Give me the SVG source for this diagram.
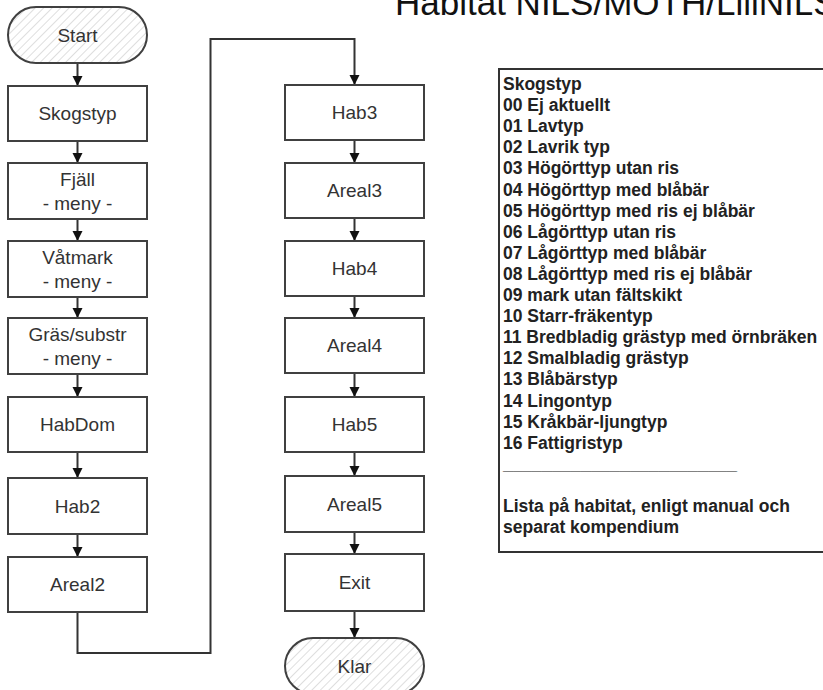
<svg xmlns="http://www.w3.org/2000/svg" width="823" height="690" viewBox="0 0 823 690">
<style>
.box{fill:#fff;stroke:#404040;stroke-width:2}
.term{fill:url(#hatch);stroke:#404040;stroke-width:2}
.lbl{font-family:"Liberation Sans",Arial,sans-serif;font-size:19px;fill:#333;text-anchor:middle}
.conn{fill:none;stroke:#333;stroke-width:2}
.lst{font-family:"Liberation Sans",Arial,sans-serif;font-size:17.5px;font-weight:bold;fill:#222}
.title{font-family:"Liberation Sans",Arial,sans-serif;font-size:35px;fill:#111}
</style>
<defs>
<pattern id="hatch" patternUnits="userSpaceOnUse" width="6" height="6" patternTransform="rotate(45)">
<rect width="6" height="6" fill="#fff"/>
<line x1="0" y1="0" x2="0" y2="6" stroke="#c8c8c8" stroke-width="1.2"/>
</pattern>
<marker id="arr" markerUnits="userSpaceOnUse" markerWidth="11" markerHeight="11" refX="10" refY="5" orient="auto">
<path d="M0,0 L10,5 L0,10 z" fill="#111"/>
</marker>
</defs>
<rect width="823" height="690" fill="#fff"/>
<text class="title" x="395" y="14.5">Habitat NILS/MOTH/LiiiNILS</text>

<g id="connectors">
<line class="conn" x1="77.5" y1="63" x2="77.5" y2="86" marker-end="url(#arr)"/>
<line class="conn" x1="77.5" y1="141" x2="77.5" y2="163" marker-end="url(#arr)"/>
<line class="conn" x1="77.5" y1="219" x2="77.5" y2="241" marker-end="url(#arr)"/>
<line class="conn" x1="77.5" y1="297" x2="77.5" y2="318" marker-end="url(#arr)"/>
<line class="conn" x1="77.5" y1="374" x2="77.5" y2="397" marker-end="url(#arr)"/>
<line class="conn" x1="77.5" y1="452" x2="77.5" y2="478" marker-end="url(#arr)"/>
<line class="conn" x1="77.5" y1="534" x2="77.5" y2="557" marker-end="url(#arr)"/>
<path class="conn" d="M77.5,612 V653 H210.5 V39 H354.5 V85" marker-end="url(#arr)"/>
<line class="conn" x1="354.5" y1="140" x2="354.5" y2="163" marker-end="url(#arr)"/>
<line class="conn" x1="354.5" y1="218" x2="354.5" y2="241" marker-end="url(#arr)"/>
<line class="conn" x1="354.5" y1="296" x2="354.5" y2="318" marker-end="url(#arr)"/>
<line class="conn" x1="354.5" y1="373" x2="354.5" y2="397" marker-end="url(#arr)"/>
<line class="conn" x1="354.5" y1="452" x2="354.5" y2="476" marker-end="url(#arr)"/>
<line class="conn" x1="354.5" y1="532" x2="354.5" y2="554" marker-end="url(#arr)"/>
<line class="conn" x1="354.5" y1="611" x2="354.5" y2="638" marker-end="url(#arr)"/>
</g>

<g id="start"><rect class="term" x="8" y="7" width="139" height="56" rx="28" ry="28"/><text class="lbl" x="77.5" y="41.5">Start</text></g>
<g id="skogstyp"><rect class="box" x="8" y="86" width="139" height="55"/><text class="lbl" x="77.5" y="120">Skogstyp</text></g>
<g id="fjall"><rect class="box" x="8" y="163" width="139" height="56"/><text class="lbl" x="77.5" y="185.5">Fjäll</text><text class="lbl" x="77.5" y="209.5">- meny -</text></g>
<g id="vatmark"><rect class="box" x="8" y="241" width="139" height="56"/><text class="lbl" x="77.5" y="263.5">Våtmark</text><text class="lbl" x="77.5" y="287.5">- meny -</text></g>
<g id="gras"><rect class="box" x="8" y="318" width="139" height="56"/><text class="lbl" x="77.5" y="340.5">Gräs/substr</text><text class="lbl" x="77.5" y="364.5">- meny -</text></g>
<g id="habdom"><rect class="box" x="8" y="397" width="139" height="55"/><text class="lbl" x="77.5" y="431">HabDom</text></g>
<g id="hab2"><rect class="box" x="8" y="478" width="139" height="56"/><text class="lbl" x="77.5" y="512.5">Hab2</text></g>
<g id="areal2"><rect class="box" x="8" y="557" width="139" height="55"/><text class="lbl" x="77.5" y="591">Areal2</text></g>

<g id="hab3"><rect class="box" x="285" y="85" width="139" height="55"/><text class="lbl" x="354.5" y="119">Hab3</text></g>
<g id="areal3"><rect class="box" x="285" y="163" width="139" height="55"/><text class="lbl" x="354.5" y="197">Areal3</text></g>
<g id="hab4"><rect class="box" x="285" y="241" width="139" height="55"/><text class="lbl" x="354.5" y="275">Hab4</text></g>
<g id="areal4"><rect class="box" x="285" y="318" width="139" height="55"/><text class="lbl" x="354.5" y="352">Areal4</text></g>
<g id="hab5"><rect class="box" x="285" y="397" width="139" height="55"/><text class="lbl" x="354.5" y="431">Hab5</text></g>
<g id="areal5"><rect class="box" x="285" y="476" width="139" height="56"/><text class="lbl" x="354.5" y="510.5">Areal5</text></g>
<g id="exit"><rect class="box" x="285" y="554" width="139" height="57"/><text class="lbl" x="354.5" y="589">Exit</text></g>
<g id="klar"><rect class="term" x="285" y="638" width="139" height="56" rx="28" ry="28"/><text class="lbl" x="354.5" y="672.5">Klar</text></g>

<g id="legend">
<rect x="499" y="69" width="340" height="483" fill="#fff" stroke="#333" stroke-width="2"/>
<text class="lst" x="503" y="90">Skogstyp</text>
<text class="lst" x="503" y="111.1">00 Ej aktuellt</text>
<text class="lst" x="503" y="132.2">01 Lavtyp</text>
<text class="lst" x="503" y="153.3">02 Lavrik typ</text>
<text class="lst" x="503" y="174.4">03 Högörttyp utan ris</text>
<text class="lst" x="503" y="195.5">04 Högörttyp med blåbär</text>
<text class="lst" x="503" y="216.6">05 Högörttyp med ris ej blåbär</text>
<text class="lst" x="503" y="237.7">06 Lågörttyp utan ris</text>
<text class="lst" x="503" y="258.8">07 Lågörttyp med blåbär</text>
<text class="lst" x="503" y="279.9">08 Lågörttyp med ris ej blåbär</text>
<text class="lst" x="503" y="301">09 mark utan fältskikt</text>
<text class="lst" x="503" y="322.1">10 Starr-fräkentyp</text>
<text class="lst" x="503" y="343.2">11 Bredbladig grästyp med örnbräken</text>
<text class="lst" x="503" y="364.3">12 Smalbladig grästyp</text>
<text class="lst" x="503" y="385.4">13 Blåbärstyp</text>
<text class="lst" x="503" y="406.5">14 Lingontyp</text>
<text class="lst" x="503" y="427.6">15 Kråkbär-ljungtyp</text>
<text class="lst" x="503" y="448.7">16 Fattigristyp</text>
<text class="lst" x="503" y="469.8" textLength="234" lengthAdjust="spacingAndGlyphs">________________________</text>
<text class="lst" x="503" y="512">Lista på habitat, enligt manual och</text>
<text class="lst" x="503" y="533.1">separat kompendium</text>
</g>
</svg>
